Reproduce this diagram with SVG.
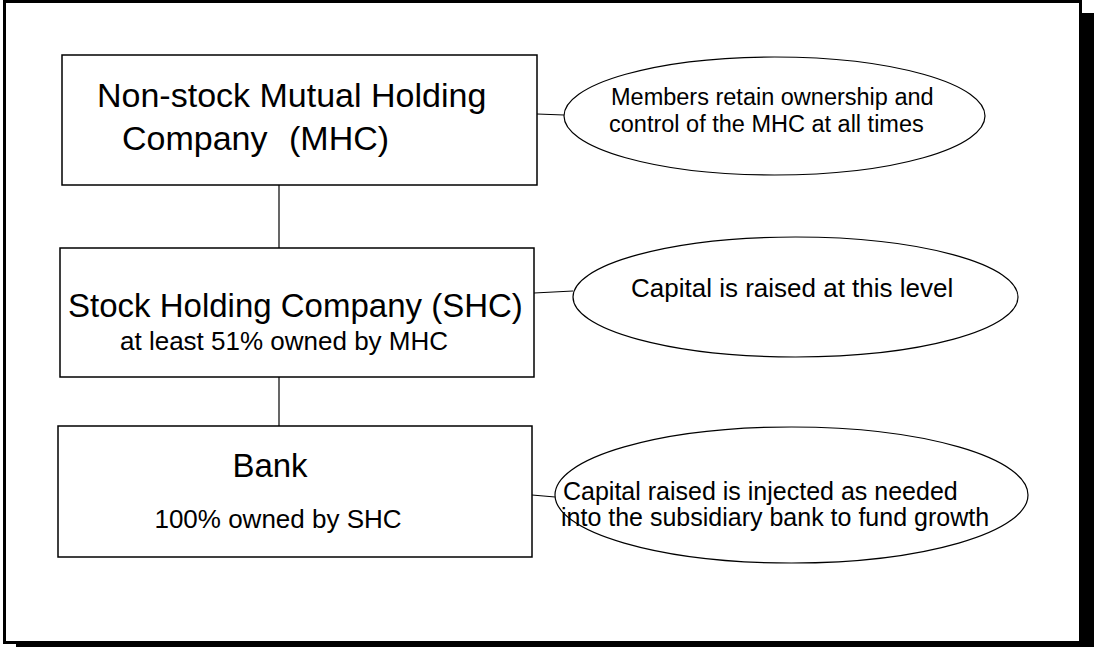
<svg xmlns="http://www.w3.org/2000/svg" width="1094" height="647" viewBox="0 0 1094 647">
  <style>
    .box { fill: #ffffff; stroke: #000000; stroke-width: 1.5; }
    .note { fill: #ffffff; stroke: #000000; stroke-width: 1.2; }
    .link { stroke: #000000; stroke-width: 1.2; fill: none; }
    text { font-family: "Liberation Sans", Arial, sans-serif; fill: #000000; }
    .t1 { font-size: 34px; }
    .t2 { font-size: 26px; }
    .tn { font-size: 23.5px; }
    .tb { font-size: 25px; }
  </style>

  <!-- page frame with drop shadow -->
  <rect x="16" y="13" width="1080" height="645" fill="#000000"/>
  <rect x="4.5" y="1.5" width="1076" height="641" fill="#ffffff" stroke="#000000" stroke-width="3"/>

  <!-- connectors -->
  <g id="connectors">
    <line class="link" x1="279" y1="185" x2="279" y2="248"/>
    <line class="link" x1="279" y1="377" x2="279" y2="426"/>
    <line class="link" x1="537" y1="114" x2="564" y2="115"/>
    <line class="link" x1="534" y1="293" x2="573" y2="291"/>
    <line class="link" x1="532" y1="495" x2="555" y2="497"/>
  </g>

  <g id="mhc">
    <rect class="box" x="62" y="55" width="475" height="130"/>
    <text class="t1" x="97" y="107">Non-stock Mutual Holding</text>
    <text class="t1" y="150"><tspan x="122">Company</tspan><tspan x="289">(MHC)</tspan></text>
  </g>

  <g id="shc">
    <rect class="box" x="60" y="248" width="474" height="129"/>
    <text class="t1" x="68" y="317" style="font-size:33px">Stock Holding Company (SHC)</text>
    <text class="t2" x="120" y="350">at least 51% owned by MHC</text>
  </g>

  <g id="bank">
    <rect class="box" x="58" y="426" width="474" height="131"/>
    <text class="t1" x="270" y="477" text-anchor="middle" style="font-size:33px">Bank</text>
    <text class="t2" x="278" y="528" text-anchor="middle">100% owned by SHC</text>
  </g>

  <g id="note-mhc">
    <ellipse class="note" cx="774.5" cy="116" rx="210.5" ry="59"/>
    <text class="tn" x="611" y="105">Members retain ownership and</text>
    <text class="tn" x="609" y="132">control of the MHC at all times</text>
  </g>

  <g id="note-shc">
    <ellipse class="note" cx="795.5" cy="297" rx="222.5" ry="60"/>
    <text class="t2" x="631" y="297">Capital is raised at this level</text>
  </g>

  <g id="note-bank">
    <ellipse class="note" cx="791.5" cy="495" rx="236.5" ry="68"/>
    <text class="tb" x="563" y="500">Capital raised is injected as needed</text>
    <text class="tb" x="561" y="526">into the subsidiary bank to fund growth</text>
  </g>
</svg>
